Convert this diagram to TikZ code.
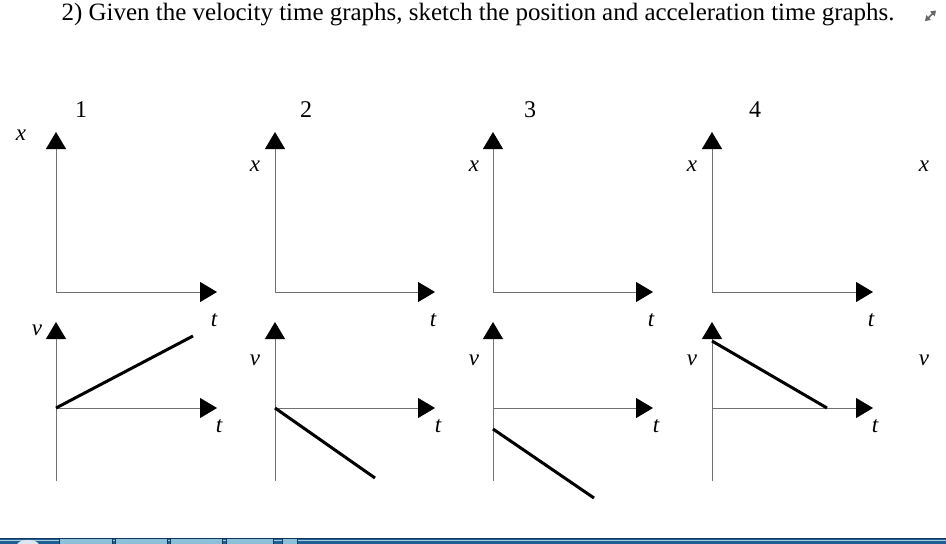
\documentclass[tikz,border=0pt]{standalone}
\usepackage{fontspec}
\setmainfont{Liberation Serif}
\usetikzlibrary{arrows.meta}
\definecolor{axisgray}{HTML}{707070}
\definecolor{barblue}{HTML}{1F5F93}
\definecolor{bardark}{HTML}{10385C}
\definecolor{barlight}{HTML}{A9CCDD}
\definecolor{btnblue}{HTML}{8CC0D8}
\tikzset{
  x=1pt,y=-1pt,
  axisline/.style={draw=axisgray,line width=0.9pt,{Triangle[length=17pt,width=20pt,color=black,fill=black]}-{Triangle[length=17pt,width=20pt,color=black,fill=black]}},
  axisdown/.style={draw=axisgray,line width=0.9pt,{Triangle[length=17pt,width=20pt,color=black,fill=black]}-},
  curveline/.style={draw=black,line width=3pt},
  varlabel/.style={font=\fontsize{23}{23}\selectfont\itshape,inner sep=0pt},
  numlabel/.style={font=\fontsize{24}{24}\selectfont,inner sep=0pt},
  titlelabel/.style={font=\fontsize{24.95}{27}\selectfont,inner sep=0pt,anchor=west},
  taskbtn/.style={draw=bardark,line width=.8pt,fill=btnblue},
}
\begin{document}
\begin{tikzpicture}
\useasboundingbox (0,0) rectangle (946,544);
\fill[white] (0,0) rectangle (946,544);
% title
\node[titlelabel] (title) at (61.5,14.5) {2) Given the velocity time graphs, sketch the position and acceleration time graphs.};
% top-left stray arc
\draw[gray!35,line width=1pt] (24,0) arc[start angle=200,end angle=340,radius=8];
% resize icon
\draw[gray!80!black,line width=1.6pt,{Triangle[length=5pt,width=6.5pt]}-{Triangle[length=5pt,width=6.5pt]}] (925,21) -- (936,10.5);
% axes x-t and v-t
\foreach \n/\ox/\tx in {a/56/217,b/275/435,c/493/653,d/712/873}{
  \coordinate (xtop-\n) at (\ox,132);
  \coordinate (xo-\n) at (\ox,292);
  \coordinate (xend-\n) at (\tx,292);
  \coordinate (vtop-\n) at (\ox,322);
  \coordinate (vo-\n) at (\ox,408);
  \coordinate (vbot-\n) at (\ox,481);
  \coordinate (vend-\n) at (\tx,408);
  \draw[axisline] (xtop-\n) -- (xo-\n) -- (xend-\n);
  \draw[axisdown] (vtop-\n) -- (vbot-\n);
  \draw[axisdown] (vend-\n) -- (vo-\n);
}
% velocity lines
\coordinate (la) at (193,336);
\coordinate (lb) at (375,478);
\coordinate (cs) at (493,429);
\coordinate (lc) at (594,498);
\coordinate (ds) at (712,341);
\coordinate (ld) at (827,408);
\draw[curveline] (vo-a) -- (la);
\draw[curveline] (vo-b) -- (lb);
\draw[curveline] (cs) -- (lc);
\draw[curveline] (ds) -- (ld);
% numbers
\node[numlabel] (n1) at (81,110) {1};
\node[numlabel] (n2) at (306,110) {2};
\node[numlabel] (n3) at (530,110) {3};
\node[numlabel] (n4) at (755,110) {4};
% labels
\foreach \i/\px/\py in {1/21/135,2/255/166,3/474/166,4/692/166,5/924/166}{
  \node[varlabel] (xl\i) at (\px,\py) {x};
}
\foreach \i/\px/\py in {1/37/330,2/255/360,3/474/360,4/692/360,5/924/360}{
  \node[varlabel] (vl\i) at (\px,\py) {v};
}
\foreach \i/\px in {1/214,2/433,3/651,4/871}{
  \node[varlabel] (tu\i) at (\px,320) {t};
}
\foreach \i/\px in {1/219,2/438,3/656,4/875}{
  \node[varlabel] (tl\i) at (\px,426) {t};
}
% taskbar
\fill[barblue] (0,538) rectangle (946,544);
\fill[bardark] (0,538) rectangle (946,539);
\fill[barlight] (0,539.5) rectangle (946,540.5);
\foreach \l/\r in {59/112,115/167,170/222,226/273,282/297}{
  \draw[taskbtn] (\l,545) -- (\l,538.6) -- (\r,538.6) -- (\r,545);
}
\fill[white!85!barblue] (28,545) ellipse[x radius=11,y radius=5];
\end{tikzpicture}
\end{document}
